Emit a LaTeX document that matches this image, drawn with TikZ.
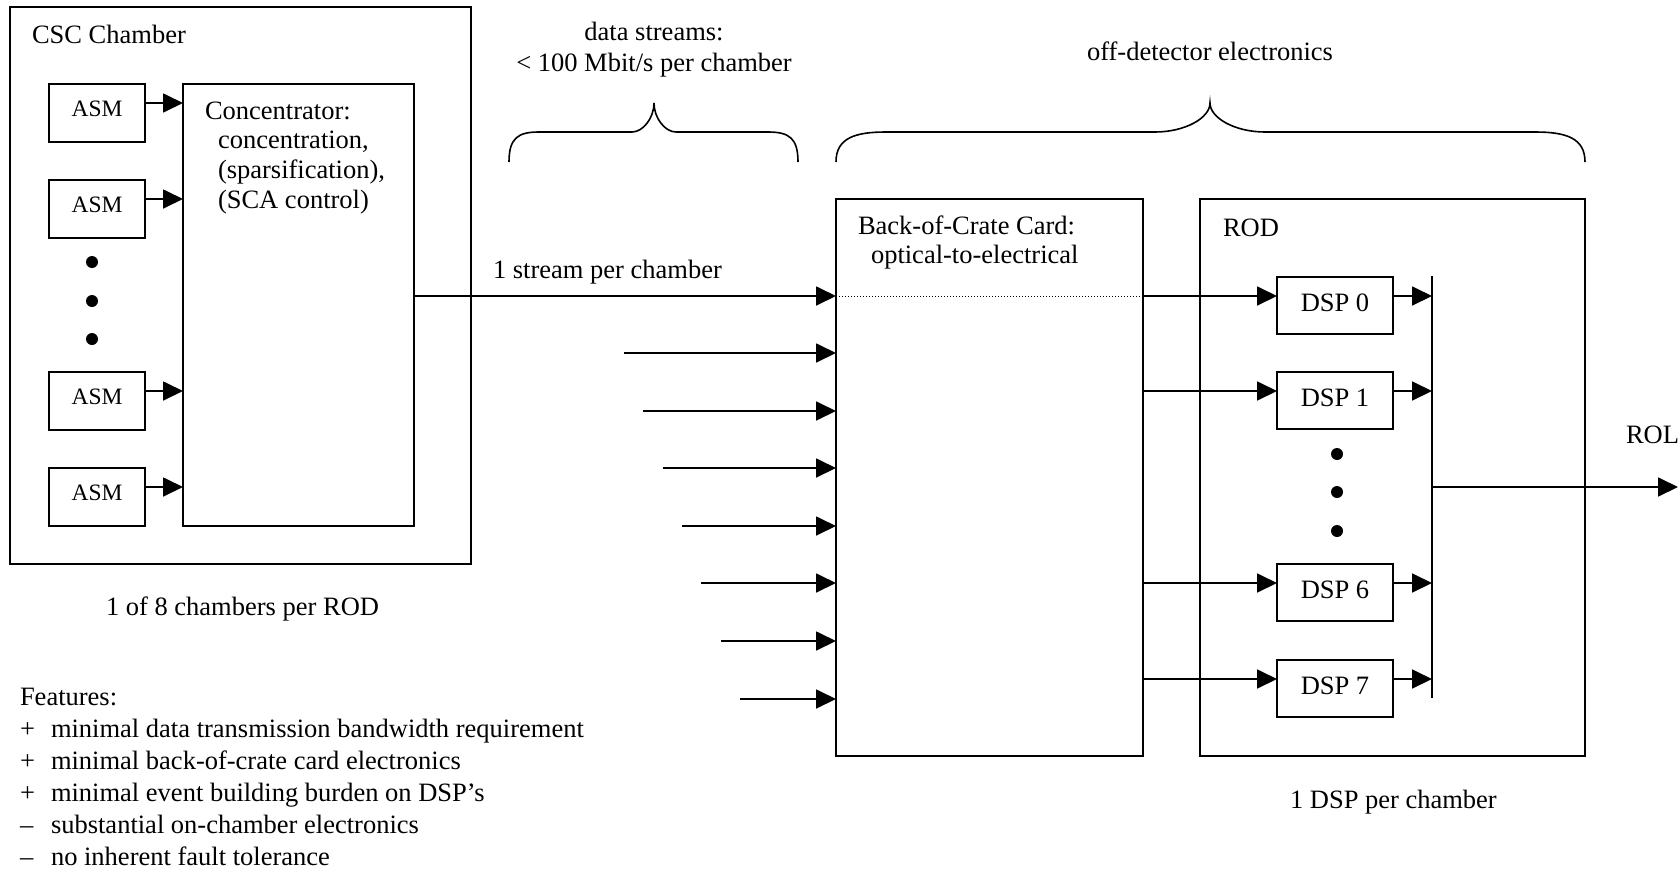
\documentclass[tikz,border=0pt]{standalone}
\usepackage{fontspec}
\setmainfont{Liberation Serif}
\usetikzlibrary{arrows.meta}
\begin{document}
\begin{tikzpicture}[x=1pt,y=-1pt,
  every node/.style={font=\fontsize{26.5}{30}\selectfont},
  box/.style={draw, line width=1.8pt, inner sep=0pt, outer sep=0pt, anchor=north west},
  asmbox/.style={box, minimum width=96pt, minimum height=58pt, text height=16pt, text depth=10pt, font=\fontsize{23.5}{28}\selectfont},
  dspbox/.style={box, minimum width=116pt, minimum height=57pt, text height=18pt, text depth=7pt},
  txt/.style={inner sep=0pt, outer sep=0pt, anchor=base west},
  ctxt/.style={inner sep=0pt, outer sep=0pt, anchor=base},
  arr/.style={line width=1.8pt, -{Triangle[length=20pt,width=19pt]}},
  ln/.style={line width=1.8pt},
  dotline/.style={line width=1pt, dash pattern=on 1.2pt off 1.8pt},
  brace/.style={line width=1.6pt}
]
\useasboundingbox (0,0) rectangle (1679,871);

% CSC chamber
\node[box, minimum width=461pt, minimum height=557pt] (csc) at (10,7) {};
\node[txt] (csctitle) at (32,43) {CSC Chamber};
\foreach \n/\y in {1/84,2/180,3/372,4/468}
  \node[asmbox] (asm\n) at (49,\y) {ASM};
\foreach \y in {262,301,339}
  \fill (92,\y) circle[radius=6pt];
\node[box, minimum width=231pt, minimum height=442pt] (conc) at (183,84) {};
\node[txt] (ct1) at (205,119) {Concentrator:};
\node[txt] (ct2) at (218,148) {concentration,};
\node[txt] (ct3) at (218,178) {(sparsification),};
\node[txt] (ct4) at (218,208) {(SCA control)};
\foreach \n in {1,...,4}{
  \path ([yshift=-19pt]asm\n.north east) coordinate (a\n);
  \draw[arr] (a\n) -- (a\n -| conc.west);
}

% back-of-crate card and ROD
\node[box, minimum width=307pt, minimum height=557pt] (boc) at (836,199) {};
\node[txt] (bt1) at (858,234) {Back-of-Crate Card:};
\node[txt] (bt2) at (871,263) {optical-to-electrical};
\node[box, minimum width=385pt, minimum height=557pt] (rod) at (1200,199) {};
\node[txt] (rodt) at (1223,236) {ROD};
\foreach \n/\y in {0/277,1/372,6/564,7/660}
  \node[dspbox] (dsp\n) at (1277,\y) {DSP \n};
\foreach \y in {454,492,531}
  \fill (1337,\y) circle[radius=6pt];

% main stream
\coordinate (s0) at (0,296);
\draw[arr] (conc.east |- s0) -- (boc.west |- s0);
\draw[dotline] (boc.west |- s0) -- (boc.east |- s0);
\draw[arr] (boc.east |- s0) -- (dsp0.west |- s0);
\node[txt] (streamlbl) at (493,278) {1 stream per chamber};

% other input streams
\foreach \y/\x in {353/624,411/643,468/663,526/682,583/701,641/721,699/740}{
  \coordinate (in\y) at (\x,\y);
  \draw[arr] (in\y) -- (in\y -| boc.west);
}

% BOC to DSPs
\foreach \n in {1,6,7}{
  \path ([yshift=-19pt]dsp\n.north west) coordinate (d\n);
  \draw[arr] (boc.east |- d\n) -- (d\n);
}

% bus
\coordinate (bustop) at (1432,276);
\coordinate (busbot) at (1432,698);
\draw[ln] (bustop) -- (busbot);
\foreach \n in {0,1,6,7}{
  \path ([yshift=-19pt]dsp\n.north east) coordinate (e\n);
  \draw[arr] (e\n) -- (e\n -| bustop);
}
\coordinate (rolend) at (1678,487);
\draw[arr] (bustop |- rolend) -- (rolend);
\node[txt] (rol) at (1626,443) {ROL};

% braces
\draw[brace] (509,162) .. controls (509,138) and (518,132) .. (539,132) -- (632,132)
  .. controls (643,132) and (654,118) .. (654,103)
  .. controls (654,118) and (665,132) .. (676,132) -- (768,132)
  .. controls (789,132) and (798,138) .. (798,162);
\draw[brace] (836,162) .. controls (836,138) and (855,132) .. (886,132) -- (1155,132)
  .. controls (1185,132) and (1210,118) .. (1210,103)
  .. controls (1210,118) and (1235,132) .. (1265,132) -- (1535,132)
  .. controls (1566,132) and (1585,138) .. (1585,162);
\node[ctxt] (ds1) at (654,40) {data streams:};
\node[ctxt] (ds2) at (654,71) {< 100 Mbit/s per chamber};
\node[ctxt] (offdet) at (1210,60) {off-detector electronics};

% captions
\node[txt] (cap1) at (106,615) {1 of 8 chambers per ROD};
\node[txt] (cap2) at (1290,808) {1 DSP per chamber};

% features
\node[txt] (feat) at (20,705) {Features:};
\foreach \y/\s/\t in {737/+/minimal data transmission bandwidth requirement,
                      769/+/minimal back-of-crate card electronics,
                      801/+/minimal event building burden on DSP’s,
                      833/–/substantial on-chamber electronics,
                      865/–/no inherent fault tolerance}{
  \node[txt] (fs\y) at (20,\y) {\s};
  \node[txt] (ft\y) at (51,\y) {\t};
}
\end{tikzpicture}
\end{document}
